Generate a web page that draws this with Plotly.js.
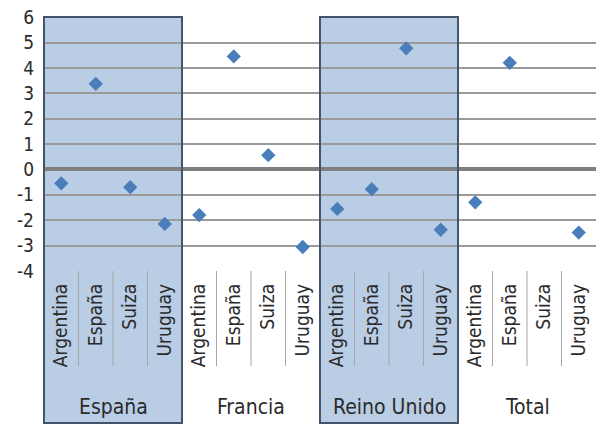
<!DOCTYPE html>
<html>
<head>
<meta charset="utf-8">
<script src="https://cdn.plot.ly/plotly-3.0.1.min.js"></script>
<style>html,body{margin:0;padding:0;background:#fff;}#chart{width:603px;height:425px;}</style>
</head>
<body>
<div id="chart"></div>
<script>
const groups = ['España', 'Francia', 'Reino Unido', 'Total'];
const countries = ['Argentina', 'España', 'Suiza', 'Uruguay'];
const valEspana = [-0.55, 3.37, -0.7, -2.15];
const valFrancia = [-1.8, 4.45, 0.56, -3.06];
const valReinoUnido = [-1.56, -0.78, 4.77, -2.38];
const valTotal = [-1.3, 4.2, null, -2.49];
const yTicks = [6, 5, 4, 3, 2, 1, 0, -1, -2, -3, -4];
const shadedGroups = [true, false, true, false];

const seriesByGroup = [valEspana, valFrancia, valReinoUnido, valTotal];
const nCat = countries.length;
const nAll = groups.length * nCat;

const xs = [], ys = [], tickvals = [], ticktext = [];
groups.forEach((g, gi) => {
  countries.forEach((c, ci) => {
    const idx = gi * nCat + ci;
    tickvals.push(idx);
    ticktext.push(c);
    xs.push(idx);
    ys.push(seriesByGroup[gi][ci]);
  });
});

const FONT = '"Liberation Sans Narrow", "Arial Narrow", "DejaVu Sans Condensed", sans-serif';
const plotH = 425 - 17 - 154;
const px2paper = p => (271 - p) / plotH;

const shapes = [];
const annotations = [];
groups.forEach((g, gi) => {
  const x0 = gi / groups.length, x1 = (gi + 1) / groups.length;
  if (shadedGroups[gi]) {
    shapes.push({type: 'rect', xref: 'paper', yref: 'paper', x0: x0, x1: x1, y0: px2paper(423), y1: 1,
      fillcolor: '#b9cde5', line: {width: 0}, layer: 'below'});
    shapes.push({type: 'rect', xref: 'paper', yref: 'paper', x0: x0, x1: x1, y0: px2paper(423), y1: 1,
      fillcolor: 'rgba(0,0,0,0)', line: {color: '#44546a', width: 2}, layer: 'above'});
  }
  for (let ci = 1; ci < nCat; ci++) {
    const xp = (gi * nCat + ci) / nAll;
    shapes.push({type: 'line', xref: 'paper', yref: 'paper', x0: xp, x1: xp, y0: 0, y1: px2paper(366),
      line: {color: '#a6a6a6', width: 1}, layer: 'above'});
  }
  annotations.push({xref: 'x', yref: 'paper', x: gi * nCat + (nCat - 1) / 2, y: px2paper(407),
    text: g, showarrow: false, yanchor: 'middle', xanchor: 'center',
    font: {family: FONT, size: 21, color: '#2b2b2b'}});
});

const trace = {
  type: 'scatter', mode: 'markers', x: xs, y: ys,
  marker: {symbol: 'diamond', size: 11, color: '#4a7ebb'},
  cliponaxis: false, hoverinfo: 'skip'
};

const layout = {
  width: 603, height: 425,
  margin: {l: 44, r: 7, t: 17, b: 154, pad: 0},
  paper_bgcolor: '#ffffff', plot_bgcolor: 'rgba(0,0,0,0)',
  showlegend: false,
  font: {family: FONT, color: '#2b2b2b'},
  xaxis: {
    range: [-0.5, nAll - 0.5], tickmode: 'array', tickvals: tickvals, ticktext: ticktext,
    tickangle: -90, showgrid: false, zeroline: false, showline: false, ticks: '',
    tickfont: {family: FONT, size: 19, color: '#2b2b2b'}, ticklabelstandoff: 8, fixedrange: true
  },
  yaxis: {
    range: [-4.005, 6.005], tickmode: 'array', tickvals: yTicks, ticktext: yTicks.map(String),
    showgrid: true, gridcolor: '#9a9a9a', gridwidth: 2,
    zeroline: true, zerolinecolor: '#7f7f7f', zerolinewidth: 4,
    showline: false, ticks: '', ticklabelstandoff: 9,
    tickfont: {family: FONT, size: 19, color: '#2b2b2b'}, fixedrange: true
  },
  shapes: shapes,
  annotations: annotations
};

Plotly.newPlot('chart', [trace], layout, {displayModeBar: false, staticPlot: true});
</script>
</body>
</html>
